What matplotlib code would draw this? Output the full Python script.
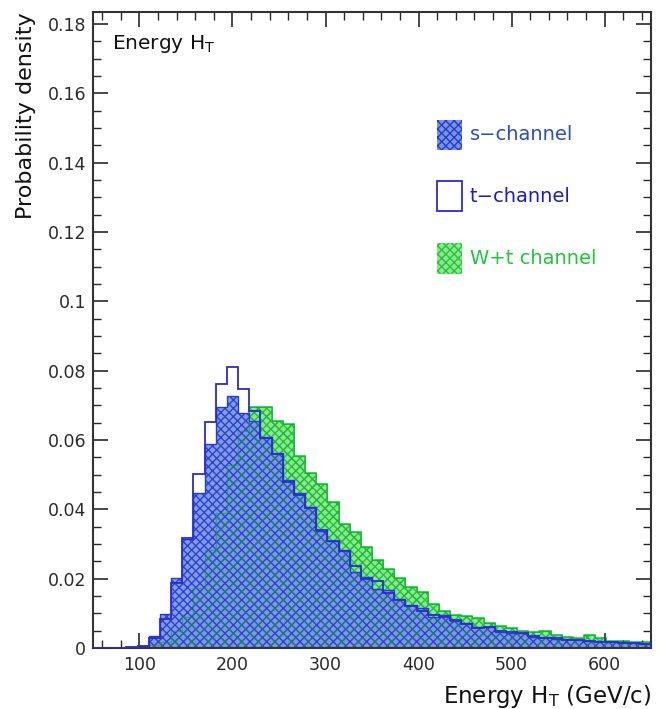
import numpy as np
import matplotlib
matplotlib.use('Agg')
import matplotlib.pyplot as plt
from matplotlib.patches import Rectangle
from matplotlib.ticker import MultipleLocator, FixedLocator

plt.rcParams['font.family'] = ['DejaVu Sans']
plt.rcParams['hatch.linewidth'] = 1.0

# Histogram binning: 50 bins of 12 GeV from 50 to 650
bin_edges = np.linspace(50, 650, 51)

s_channel = [0, 0, 0, 0.0002, 0.0007, 0.0035, 0.0098, 0.0201, 0.0314, 0.0446,
             0.0590, 0.0696, 0.0727, 0.0677, 0.0655, 0.0610, 0.0563, 0.0485, 0.0446, 0.0408,
             0.0339, 0.0310, 0.0283, 0.0220, 0.0204, 0.0169, 0.0167, 0.0140, 0.0124, 0.0115,
             0.0089, 0.0095, 0.0078, 0.0073, 0.0062, 0.0062, 0.0047, 0.0042, 0.0044, 0.0033,
             0.0031, 0.0026, 0.0025, 0.0023, 0.0020, 0.0019, 0.0018, 0.0016, 0.0013, 0.0012]

t_channel = [0, 0, 0, 0.0002, 0.0006, 0.0030, 0.0085, 0.0188, 0.0316, 0.0502,
             0.0653, 0.0761, 0.0810, 0.0748, 0.0685, 0.0605, 0.0560, 0.0480, 0.0440, 0.0405,
             0.0340, 0.0310, 0.0280, 0.0237, 0.0200, 0.0193, 0.0160, 0.0138, 0.0120, 0.0108,
             0.0095, 0.0090, 0.0080, 0.0070, 0.0058, 0.0060, 0.0050, 0.0045, 0.0042, 0.0036,
             0.0030, 0.0028, 0.0024, 0.0022, 0.0021, 0.0018, 0.0017, 0.0015, 0.0014, 0.0012]

wt_channel = [0, 0, 0, 0, 0.0002, 0.0008, 0.0018, 0.0049, 0.0090, 0.0172,
              0.0283, 0.0389, 0.0528, 0.0626, 0.0695, 0.0695, 0.0656, 0.0646, 0.0554, 0.0504,
              0.0472, 0.0422, 0.0357, 0.0336, 0.0292, 0.0254, 0.0227, 0.0201, 0.0177, 0.0163,
              0.0126, 0.0108, 0.0096, 0.0092, 0.0087, 0.0073, 0.0063, 0.0057, 0.0050, 0.0045,
              0.0049, 0.0038, 0.0033, 0.0028, 0.0038, 0.0030, 0.0020, 0.0020, 0.0018, 0.0018]

legend_labels = ['s\u2212channel', 't\u2212channel', 'W+t channel']

fig = plt.figure(figsize=(6.61, 7.09), dpi=100)
ax = fig.add_axes([93/661, 1-648/709, 558/661, 636/709])

green_face = '#8fe68f'
green_edge = '#1ec83a'
blue_face = '#7d92e4'
blue_edge = '#1f3fd2'
t_color = '#2a2ad8'

# W+t channel (behind)
ax.stairs(wt_channel, bin_edges, fill=True, facecolor=green_face,
          edgecolor=green_edge, hatch='xxxx', linewidth=0, zorder=1)
ax.stairs(wt_channel, bin_edges, color=green_edge, linewidth=1.2, zorder=1.5)

# s-channel (filled, hatched)
ax.stairs(s_channel, bin_edges, fill=True, facecolor=blue_face,
          edgecolor=blue_edge, hatch='xxxx', linewidth=0, alpha=0.92, zorder=2)
# W+t coarse pattern and outline showing faintly through
ax.stairs(wt_channel, bin_edges, fill=True, facecolor='none',
          edgecolor='#14a83a', hatch='xx', linewidth=0, alpha=0.45, zorder=2.4)
ax.stairs(wt_channel, bin_edges, color='#12a030', linewidth=0.7, alpha=0.55, zorder=2.5)
ax.stairs(s_channel, bin_edges, color=blue_edge, linewidth=1.0, zorder=3)

# t-channel outline
ax.stairs(t_channel, bin_edges, color=t_color, linewidth=1.3, zorder=4)

ax.set_xlim(50, 650)
ax.set_ylim(0, 0.1835)

ax.xaxis.set_major_locator(FixedLocator([100, 200, 300, 400, 500, 600]))
ax.xaxis.set_minor_locator(MultipleLocator(20))
ax.yaxis.set_minor_locator(MultipleLocator(0.005))
ax.set_yticks([0, 0.02, 0.04, 0.06, 0.08, 0.1, 0.12, 0.14, 0.16, 0.18])
ax.set_yticklabels(['0', '0.02', '0.04', '0.06', '0.08', '0.1', '0.12', '0.14', '0.16', '0.18'])

ax.tick_params(which='both', direction='in', top=True, right=True, labelsize=12.5, colors='#2a2a2a')
ax.tick_params(which='major', length=11, width=1.2)
ax.tick_params(which='minor', length=6, width=1.0)
ax.tick_params(axis='x', pad=6)
ax.tick_params(axis='y', pad=5)
for sp in ax.spines.values():
    sp.set_linewidth(1.5)
    sp.set_color('#333333')

ax.set_xlabel('Energy H$_\\mathregular{T}$ (GeV/c)', fontsize=16.5, loc='right', labelpad=6, color='#111111')
ax.set_ylabel('Probability density', fontsize=16, loc='top', labelpad=8, color='#111111')

ax.text(0.034, 0.967, 'Energy H$_\\mathregular{T}$', transform=ax.transAxes,
        fontsize=14.5, va='top', ha='left', color='#111111')

# Legend (manual, ROOT style)
def ax_x(px):
    return (px - 93) / 558

def ax_y(py):
    return (648 - py) / 636

legend_items = [
    (legend_labels[0], dict(facecolor=blue_face, edgecolor=blue_edge, hatch='xxxx', linewidth=0), 120, 150, '#2a4ad8'),
    (legend_labels[1], dict(facecolor='white', edgecolor=t_color, linewidth=1.3), 181, 211, '#1c1cc8'),
    (legend_labels[2], dict(facecolor=green_face, edgecolor=green_edge, hatch='xxxx', linewidth=0), 243, 274, '#1ec83a'),
]
for label, style, ytop, ybot, tcol in legend_items:
    x0, x1 = ax_x(437), ax_x(462)
    y0, y1 = ax_y(ybot), ax_y(ytop)
    ax.add_patch(Rectangle((x0, y0), x1 - x0, y1 - y0, transform=ax.transAxes, zorder=5, **style))
    ax.text(ax_x(470), (y0 + y1) / 2, label, transform=ax.transAxes, fontsize=14,
            va='center', ha='left', color=tcol, zorder=5)

fig.savefig('out.png', dpi=100)
